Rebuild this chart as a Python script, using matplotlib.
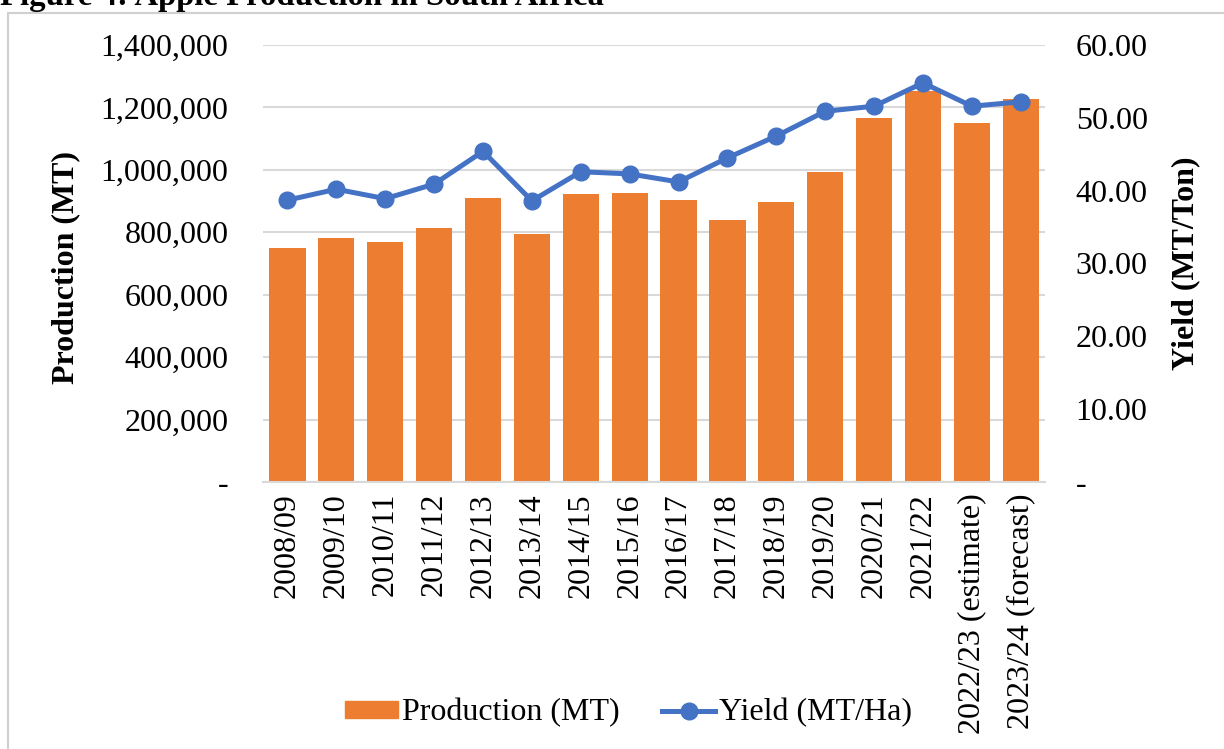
import matplotlib
matplotlib.use("Agg")
import matplotlib.pyplot as plt
from matplotlib.patches import Patch, Rectangle
from matplotlib.lines import Line2D
from matplotlib.ticker import FuncFormatter

plt.rcParams['font.family'] = ['Liberation Serif', 'DejaVu Serif']

# data
seasons = ["2008/09", "2009/10", "2010/11", "2011/12", "2012/13", "2013/14",
           "2014/15", "2015/16", "2016/17", "2017/18", "2018/19", "2019/20",
           "2020/21", "2021/22", "2022/23 (estimate)", "2023/24 (forecast)"]
production = [749000, 783000, 768000, 815000, 909000, 794000,
              922000, 927000, 904000, 838000, 896000, 992000,
              1166000, 1253000, 1151000, 1226000]
yield_ha = [38.7, 40.2, 38.9, 40.9, 45.4, 38.6,
            42.6, 42.3, 41.2, 44.5, 47.5, 50.9,
            51.6, 54.8, 51.6, 52.2]

orange = "#ED7D31"
blue = "#4472C4"
grid_col = "#D9D9D9"
fs = 23

fig = plt.figure(figsize=(12.24, 7.49), dpi=100)
ax = fig.add_axes([0.2149, 0.3565, 0.639, 0.5834])
ax2 = ax.twinx()

x = list(range(len(seasons)))
ax.bar(x, production, width=0.74, color=orange, zorder=2)
ax2.plot(x, yield_ha, color=blue, lw=3.6, marker='o', markersize=12, zorder=3)

ax.set_xlim(-0.5, len(seasons) - 0.5)
ax.set_ylim(0, 1400000)
ax.set_yticks(range(0, 1400001, 200000))
ax2.set_ylim(0, 60)
ax2.set_yticks(range(0, 61, 10))

ax.yaxis.set_major_formatter(FuncFormatter(lambda v, p: "-" if v == 0 else f"{int(v):,}"))
ax2.yaxis.set_major_formatter(FuncFormatter(lambda v, p: "-" if v == 0 else f"{v:.2f}"))

ax.grid(axis='y', color=grid_col, lw=1.5, zorder=0)
ax.set_axisbelow(True)
for a in (ax, ax2):
    for s in a.spines.values():
        s.set_visible(False)
ax.spines['bottom'].set_visible(True)
ax.spines['bottom'].set_color(grid_col)
ax.spines['bottom'].set_linewidth(1.5)

ax.set_xticks(x)
ax.set_xticklabels(seasons, rotation=90, fontsize=fs)
ax.tick_params(axis='x', length=0, pad=8)
ax.tick_params(axis='y', length=0, pad=25, labelsize=fs)
ax2.tick_params(axis='y', length=0, pad=22, labelsize=fs)

ax.set_ylabel("Production (MT)", fontsize=fs, fontweight='bold')
ax.yaxis.set_label_coords(-0.234, 0.49)
ax2.set_ylabel("Yield (MT/Ton)", fontsize=fs, fontweight='bold')
ax2.yaxis.set_label_coords(1.161, 0.5)

handles = [Patch(color=orange),
           Line2D([0], [0], color=blue, lw=3.6, marker='o', markersize=12)]
fig.legend(handles, ["Production (MT)", "Yield (MT/Ha)"], loc='center',
           bbox_to_anchor=(0.5135, 0.048), ncol=2, frameon=False, fontsize=fs,
           handlelength=1.65, handleheight=0.47, handletextpad=0.12,
           columnspacing=1.35)

# outer chart frame and cut-off caption
fig.patches.append(Rectangle((8 / 1224, -0.01), 1.02, 1 - 13 / 749 + 0.01,
                             transform=fig.transFigure, fill=False,
                             edgecolor="#D0D0D0", lw=1.5))
fig.text(0.0, 1 - 5 / 749, "Figure 4: Apple Production in South Africa",
         fontsize=23.6, fontweight='bold', va='baseline', ha='left')

fig.savefig("out.png", dpi=100)
